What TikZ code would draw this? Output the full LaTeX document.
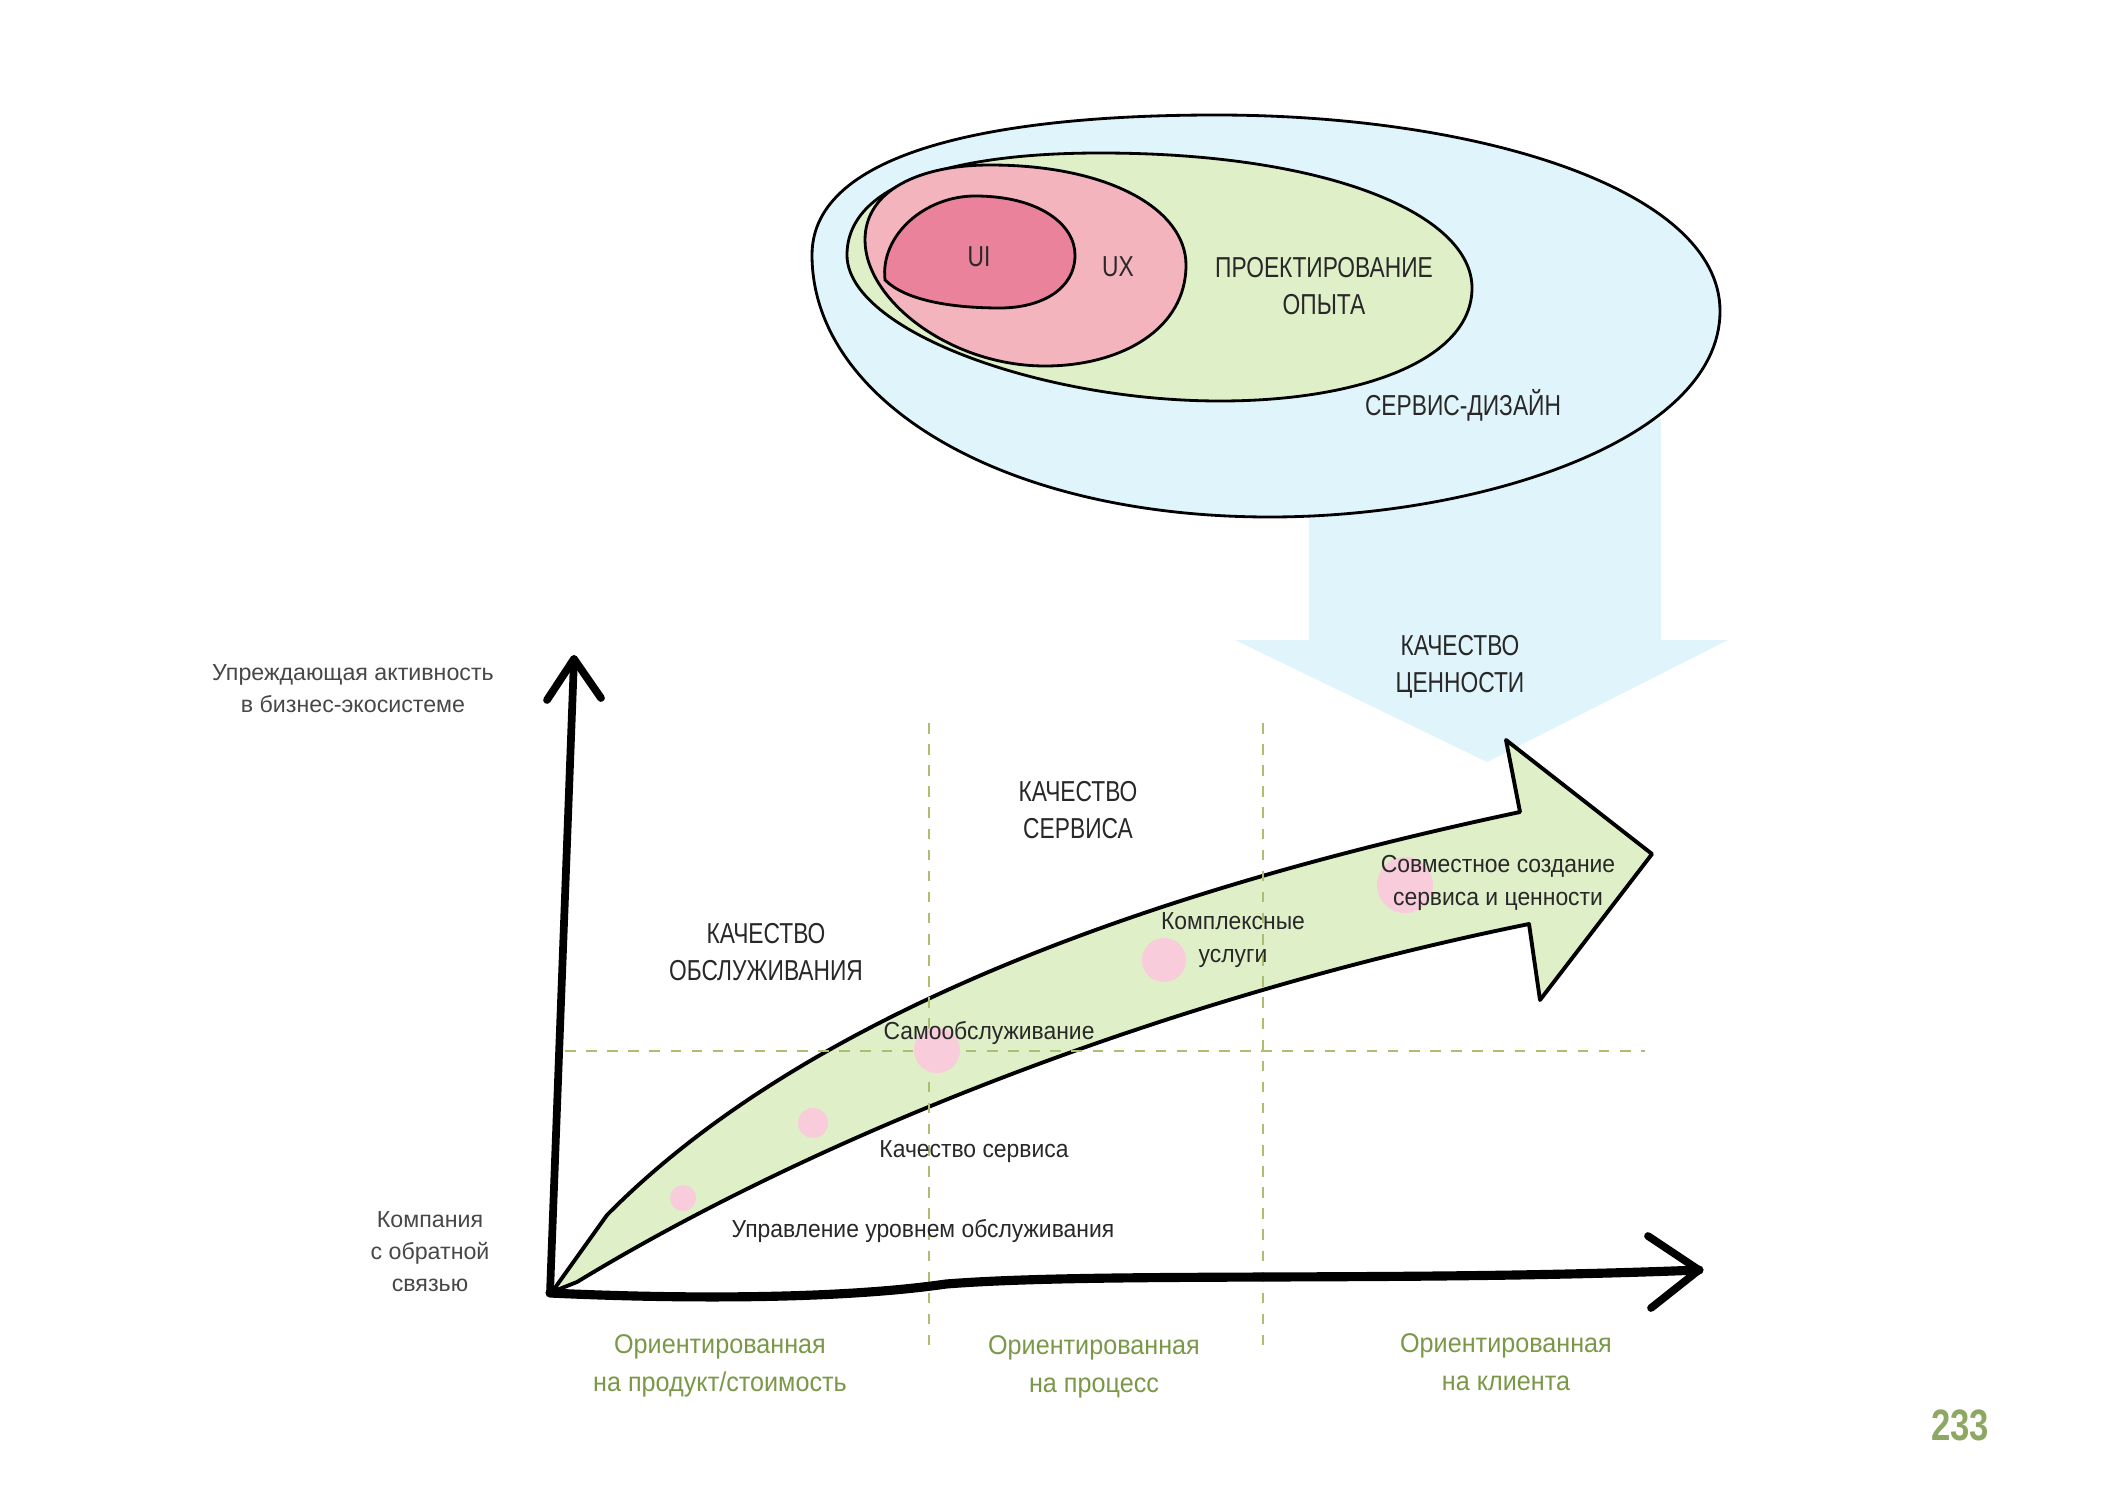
\documentclass[tikz,border=0pt]{standalone}
\usepackage{fontspec}
\setmainfont{Liberation Sans}
\newfontfamily\capsfont{Liberation Sans}[FakeStretch=0.79]
\newfontfamily\notefont{Liberation Sans}[FakeStretch=0.93]
\definecolor{csky}{RGB}{224,244,251}
\definecolor{csage}{RGB}{223,239,200}
\definecolor{cux}{RGB}{244,180,190}
\definecolor{cui}{RGB}{233,130,154}
\definecolor{cdot}{RGB}{248,204,218}
\definecolor{cgrid}{RGB}{172,190,112}
\definecolor{cleaf}{RGB}{122,152,72}
\definecolor{ctext}{RGB}{40,40,40}
\tikzset{
  blob/.style={draw=black, line width=0.8pt, fill=#1},
  caps/.style={font=\capsfont\fontsize{8.2}{10.4}\selectfont, text=ctext, align=center, inner sep=0pt},
  note/.style={font=\notefont\fontsize{7}{9.5}\selectfont, text=ctext, align=center, inner sep=0pt},
  axlabel/.style={font=\fontsize{6.6}{9.1}\selectfont, text=black!72, align=center, inner sep=0pt},
  orient/.style={font=\notefont\fontsize{7.7}{10.8}\selectfont, text=cleaf, align=center, inner sep=0pt},
  axisline/.style={line width=2.2pt, line cap=round, line join=round},
  dashline/.style={draw=cgrid, line width=0.7pt, dash pattern=on 3pt off 3pt},
  pinkdot/.style={fill=cdot},
}
\begin{document}
\begin{tikzpicture}[x=0.01cm, y=-0.01cm]
\useasboundingbox (0,0) rectangle (2118,1500);

% pale arrow coming down out of the service-design oval
\fill[csky] (1309,420) -- (1661,420) -- (1661,640) -- (1728,640) -- (1487,762)
  -- (1235,640) -- (1309,640) -- cycle;

% nested ovals
\draw[blob=csky] (812,255) .. controls (812,150) and (1000,115) .. (1216,115)
  .. controls (1480,115) and (1720,190) .. (1720,311)
  .. controls (1720,440) and (1480,517) .. (1270,517)
  .. controls (1000,517) and (812,400) .. (812,255) -- cycle;
\draw[blob=csage] (847,255) .. controls (847,185) and (950,153) .. (1100,153)
  .. controls (1330,153) and (1472,215) .. (1472,288)
  .. controls (1472,360) and (1360,401) .. (1220,401)
  .. controls (1040,401) and (847,330) .. (847,255) -- cycle;
\draw[blob=cux] (865,240) .. controls (865,190) and (920,165) .. (990,165)
  .. controls (1110,165) and (1186,210) .. (1186,265)
  .. controls (1186,330) and (1120,366) .. (1045,366)
  .. controls (950,366) and (865,300) .. (865,240) -- cycle;
\draw[blob=cui] (885,280) .. controls (880,235) and (925,196) .. (975,196)
  .. controls (1040,196) and (1075,225) .. (1075,255)
  .. controls (1075,290) and (1040,308) .. (1000,308)
  .. controls (950,308) and (905,300) .. (885,280) -- cycle;

\node[caps] (ui) at (979,257) {UI};
\node[caps] (ux) at (1118,267) {UX};
\node[caps] (exp) at (1324,286) {ПРОЕКТИРОВАНИЕ\\ОПЫТА};
\node[caps] (sd) at (1463,405) {СЕРВИС-ДИЗАЙН};
\node[caps] (qval) at (1460,667) {КАЧЕСТВО\\ЦЕННОСТИ};

% growth arrow
\draw[blob=csage, line width=1.1pt, line join=round] (552,1292) -- (607,1215)
  .. controls (800,1020) and (1130,895) .. (1520,812)
  -- (1506,740) -- (1652,854) -- (1540,1000) -- (1529,924)
  .. controls (1179,995) and (827,1130) .. (577,1282)
  -- cycle;

% grid
\draw[dashline] (929,723) -- (929,1351);
\draw[dashline] (1263,723) -- (1263,1351);
\draw[dashline] (565,1051) -- (1645,1051);

% stages on the arrow
\foreach \px/\py/\r in {683/1198/0.13, 813/1123/0.15, 937/1050/0.23, 1164/960/0.22, 1405/885/0.28}
  \fill[pinkdot] (\px,\py) circle[radius=\r cm];

% axes
\coordinate (orig) at (550,1293);
\coordinate (ytip) at (574,659);
\coordinate (xmid) at (946,1284);
\coordinate (xtip) at (1699,1270);
\draw[axisline] (orig) -- (ytip);
\draw[axisline] (547,700) -- (ytip) -- (601,698);
\draw[axisline, line width=2.6pt] (orig) .. controls (700,1300) and (850,1298) .. (xmid)
  .. controls (1100,1272) and (1400,1282) .. (xtip);
\draw[axisline] (1648,1236) -- (xtip) -- (1651,1308);

\node[axlabel] (ylab) at (353,689) {Упреждающая активность\\в бизнес-экосистеме};
\node[axlabel] (olab) at (430,1252) {Компания\\с обратной\\связью};

\node[caps] (qcare) at (766,952) {КАЧЕСТВО\\ОБСЛУЖИВАНИЯ};
\node[caps] (qserv) at (1078,810) {КАЧЕСТВО\\СЕРВИСА};

\node[note] (cocreate) at (1498,883) {Совместное создание\\сервиса и ценности};
\node[note] (complex) at (1233,940) {Комплексные\\услуги};
\node[note] (self) at (989,1033) {Самообслуживание};
\node[note] (squal) at (974,1152) {Качество сервиса};
\node[note] (slm) at (923,1231) {Управление уровнем обслуживания};

\node[orient] (oprod) at (720,1366) {Ориентированная\\на продукт/стоимость};
\node[orient] (oproc) at (1094,1367) {Ориентированная\\на процесс};
\node[orient] (ocli) at (1506,1362) {Ориентированная\\на клиента};

\node[font=\capsfont\bfseries\fontsize{12.5}{14}\selectfont, text=cleaf!85, inner sep=0pt] (page) at (1960,1425) {233};
\end{tikzpicture}
\end{document}
